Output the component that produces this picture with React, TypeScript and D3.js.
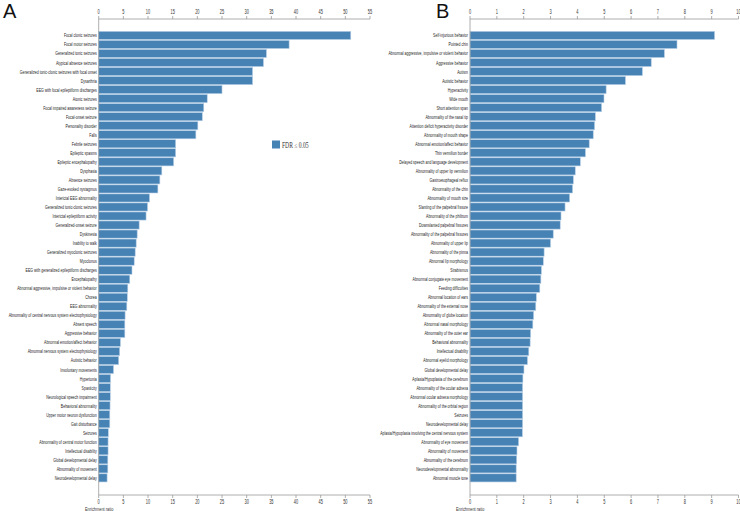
import React from "react";
import * as d3 from "d3";

const leftCategories = [
  "Focal clonic seizures", "Focal motor seizures", "Generalized tonic seizures", "Atypical absence seizures",
  "Generalized tonic-clonic seizures with focal onset", "Dysarthria", "EEG with focal epileptiform discharges",
  "Atonic seizures", "Focal impaired awareness seizure", "Focal-onset seizure", "Personality disorder", "Falls",
  "Febrile seizures", "Epileptic spasms", "Epileptic encephalopathy", "Dysphasia", "Absence seizures",
  "Gaze-evoked nystagmus", "Interictal EEG abnormality", "Generalized tonic-clonic seizures",
  "Interictal epileptiform activity", "Generalized-onset seizure", "Dyskinesia", "Inability to walk",
  "Generalized myoclonic seizures", "Myoclonus", "EEG with generalized epileptiform discharges", "Encephalopathy",
  "Abnormal aggressive, impulsive or violent behavior", "Chorea", "EEG abnormality",
  "Abnormality of central nervous system electrophysiology", "Absent speech", "Aggressive behavior",
  "Abnormal emotion/affect behavior", "Abnormal nervous system electrophysiology", "Autistic behavior",
  "Involuntary movements", "Hypertonia", "Spasticity", "Neurological speech impairment", "Behavioral abnormality",
  "Upper motor neuron dysfunction", "Gait disturbance", "Seizures", "Abnormality of central motor function",
  "Intellectual disability", "Global developmental delay", "Abnormality of movement", "Neurodevelopmental delay",
];
const leftValues = [
  51.1, 38.6, 34.0, 33.4, 31.2, 31.2, 25.0, 22.0, 21.3, 21.0, 20.1, 19.7,
  15.6, 15.6, 15.2, 12.8, 12.4, 12.0, 10.3, 9.9, 9.6, 8.2, 7.8, 7.6,
  7.4, 7.2, 6.75, 6.3, 5.9, 5.8, 5.7, 5.35, 5.3, 5.3, 4.4, 4.25, 4.05,
  3.0, 2.4, 2.35, 2.35, 2.3, 2.25, 2.25, 1.95, 1.9, 1.9, 1.85, 1.85, 1.7,
];
const leftTicks = [0, 5, 10, 15, 20, 25, 30, 35, 40, 45, 50, 55];

const rightCategories = [
  "Self-injurious behavior", "Pointed chin", "Abnormal aggressive, impulsive or violent behavior",
  "Aggressive behavior", "Autism", "Autistic behavior", "Hyperactivity", "Wide mouth", "Short attention span",
  "Abnormality of the nasal tip", "Attention deficit hyperactivity disorder", "Abnormality of mouth shape",
  "Abnormal emotion/affect behavior", "Thin vermilion border", "Delayed speech and language development",
  "Abnormality of upper lip vermilion", "Gastroesophageal reflux", "Abnormality of the chin",
  "Abnormality of mouth size", "Slanting of the palpebral fissure", "Abnormality of the philtrum",
  "Downslanted palpebral fissures", "Abnormality of the palpebral fissures", "Abnormality of upper lip",
  "Abnormality of the pinna", "Abnormal lip morphology", "Strabismus", "Abnormal conjugate eye movement",
  "Feeding difficulties", "Abnormal location of ears", "Abnormality of the external nose",
  "Abnormality of globe location", "Abnormal nasal morphology", "Abnormality of the outer ear",
  "Behavioral abnormality", "Intellectual disability", "Abnormal eyelid morphology", "Global developmental delay",
  "Aplasia/Hypoplasia of the cerebrum", "Abnormality of the ocular adnexa", "Abnormal ocular adnexa morphology",
  "Abnormality of the orbital region", "Seizures", "Neurodevelopmental delay",
  "Aplasia/Hypoplasia involving the central nervous system", "Abnormality of eye movement",
  "Abnormality of movement", "Abnormality of the cerebrum", "Neurodevelopmental abnormality", "Abnormal muscle tone",
];
const rightValues = [
  9.11, 7.71, 7.24, 6.75, 6.42, 5.79, 5.07, 4.99, 4.9, 4.67, 4.64, 4.59, 4.44, 4.3, 4.11, 3.92, 3.85, 3.82,
  3.71, 3.54, 3.39, 3.36, 3.1, 3.0, 2.76, 2.73, 2.66, 2.64, 2.6, 2.47, 2.45, 2.37, 2.34, 2.26, 2.24, 2.19,
  2.14, 2.01, 1.97, 1.96, 1.96, 1.96, 1.96, 1.96, 1.95, 1.81, 1.75, 1.74, 1.72, 1.72,
];
const rightTicks = [0, 1, 2, 3, 4, 5, 6, 7, 8, 9, 10];

const axisLabel = "Enrichment ratio";
const legendLabel = "FDR \u2264 0.05";

const BAR = "#4682b4";
const AXIS = "#9a9a9a";
const TOP = 19;
const BOTTOM = 495;
const SX = 0.59;

function Panel({ cats, vals, ticks, x0, x1, letter, letterX, titleX }: any) {
  const x = d3.scaleLinear().domain([0, ticks[ticks.length - 1]]).range([x0, x1]);
  const y = d3.scaleBand<string>().domain(cats).range([30.9, 482.4]).paddingInner(0.1).paddingOuter(0.05);
  return (
    <g>
      <text x={letterX} y={18} fontSize={20} fontFamily="Liberation Sans, Arial, sans-serif" fill="#111">{letter}</text>
      {cats.map((c: string, i: number) => (
        <rect key={c + i} x={x(0)} y={y(c)} width={x(vals[i]) - x(0)} height={y.bandwidth()}
          fill={BAR} stroke="#b7cfe6" strokeWidth={0.6} />
      ))}
      {cats.map((c: string, i: number) => (
        <text key={"l" + i} transform={`translate(${x(0) - 2},${(y(c) as number) + y.bandwidth() / 2 + 2}) scale(${SX},1)`}
          textAnchor="end" fontSize={6} fontFamily="Liberation Sans, Arial, sans-serif" fill="#222">{c}</text>
      ))}
      <line x1={x0} x2={x0} y1={TOP} y2={BOTTOM} stroke={AXIS} strokeWidth={0.8} />
      <line x1={x0} x2={x1} y1={TOP} y2={TOP} stroke={AXIS} strokeWidth={0.8} />
      <line x1={x0} x2={x1} y1={BOTTOM} y2={BOTTOM} stroke={AXIS} strokeWidth={0.8} />
      {ticks.map((t: number) => (
        <g key={"t" + t}>
          <line x1={x(t)} x2={x(t)} y1={TOP - 3} y2={TOP} stroke={AXIS} strokeWidth={0.8} />
          <text transform={`translate(${x(t)},${TOP - 5}) scale(0.6,1)`} textAnchor="middle" fontSize={6.5}
            fontFamily="Liberation Sans, Arial, sans-serif" fill="#333">{t}</text>
          <line x1={x(t)} x2={x(t)} y1={BOTTOM} y2={BOTTOM + 3} stroke={AXIS} strokeWidth={0.8} />
          <text transform={`translate(${x(t)},${BOTTOM + 8.5}) scale(0.6,1)`} textAnchor="middle" fontSize={6.5}
            fontFamily="Liberation Sans, Arial, sans-serif" fill="#333">{t}</text>
        </g>
      ))}
      <text transform={`translate(${titleX},${511}) scale(0.65,1)`} fontSize={6}
        fontFamily="Liberation Sans, Arial, sans-serif" fill="#333">{axisLabel}</text>
    </g>
  );
}

export default function App() {
  return (
    <svg width={740} height={511} style={{ position: "absolute", left: 0, top: 0, background: "#fff" }}>
      <rect width={740} height={511} fill="#fff" />
      <Panel cats={leftCategories} vals={leftValues} ticks={leftTicks} x0={98.7} x1={370} letter="A" letterX={3} titleX={85} />
      <Panel cats={rightCategories} vals={rightValues} ticks={rightTicks} x0={470} x1={738.5} letter="B" letterX={436} titleX={456} />
      <rect x={272} y={140.5} width={8} height={8} fill={BAR} />
      <text transform={`translate(282,148) scale(0.75,1)`} fontSize={7.5} fontFamily="Liberation Serif, Times New Roman, serif" fill="#333">{legendLabel}</text>
    </svg>
  );
}
